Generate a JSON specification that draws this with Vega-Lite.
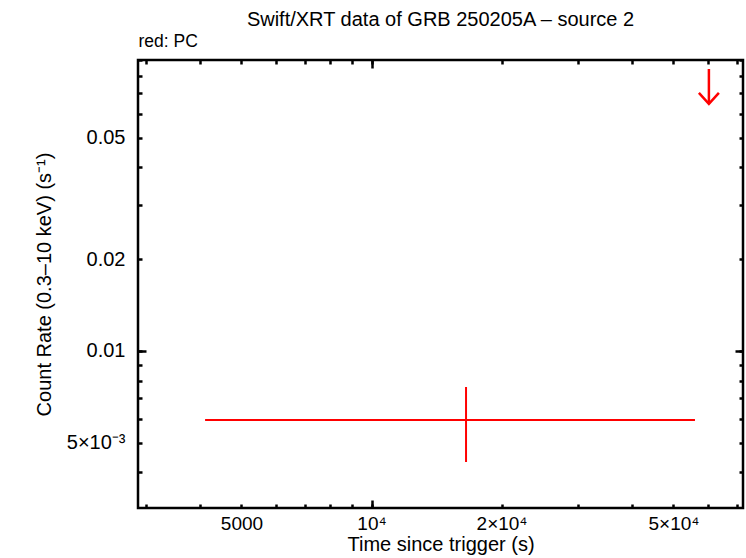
{
  "$schema": "https://vega.github.io/schema/vega-lite/v6.json",
  "width": 605,
  "height": 448,
  "autosize": {"type": "none"},
  "padding": {"left": 138, "top": 60, "right": 3, "bottom": 50},
  "background": "white",
  "title": {"text": "Swift/XRT data of GRB 250205A – source 2", "font": "Liberation Sans", "fontSize": 20, "fontWeight": "normal", "anchor": "middle", "offset": 3, "color": "black"},
  "config": {
    "view": {"stroke": "black", "strokeWidth": 2.5},
    "axis": {"domain": false, "grid": false, "tickColor": "black", "tickWidth": 2.5, "labelFont": "Liberation Sans", "labelFontSize": 19, "labelColor": "black", "titleFont": "Liberation Sans", "titleFontSize": 20, "titleFontWeight": "normal", "titleColor": "black", "labelOverlap": false, "labelFlush": false}
  },
  "datasets": {
    "det": [{"t": 16550, "t_lo": 4118, "t_hi": 56080, "rate": 0.005939, "rate_lo": 0.004325, "rate_hi": 0.00762}],
    "ul": [{"t": 60400, "rate": 0.0841, "tip": 0.0646}]
  },
  "layer": [
    {
      "data": {"name": "det"},
      "mark": {"type": "rule", "color": "#ff0000", "strokeWidth": 2},
      "encoding": {
        "x": {"field": "t_lo", "type": "quantitative", "scale": {"type": "log", "domain": [2880, 72440], "nice": false},
          "axis": {"orient": "bottom", "values": [3000,4000,5000,6000,7000,8000,9000,10000,20000,30000,40000,50000,60000,70000], "tickSize": -4, "labelPadding": 10,
            "labelExpr": "datum.value == 5000 ? '5000' : datum.value == 10000 ? '10⁴' : datum.value == 20000 ? '2×10⁴' : datum.value == 50000 ? '5×10⁴' : ''",
            "title": "Time since trigger (s)", "titlePadding": 1}},
        "x2": {"field": "t_hi"},
        "y": {"field": "rate", "type": "quantitative", "scale": {"type": "log", "domain": [0.003056, 0.09], "nice": false},
          "axis": {"orient": "left", "values": [0.004,0.005,0.006,0.007,0.008,0.009,0.01,0.02,0.03,0.04,0.05,0.06,0.07,0.08,0.09], "tickSize": -4, "labelPadding": 17, "labelFontSize": 20,
            "labelExpr": "datum.value == 0.005 ? '5×10⁻³' : datum.value == 0.01 ? '0.01' : datum.value == 0.02 ? '0.02' : datum.value == 0.05 ? '0.05' : ''",
            "title": "Count Rate (0.3–10 keV) (s⁻¹)", "titlePadding": 12}}
      }
    },
    {
      "data": {"name": "det"},
      "mark": {"type": "rule", "color": "#ff0000", "strokeWidth": 2},
      "encoding": {
        "x": {"field": "t", "type": "quantitative", "scale": {"type": "log", "domain": [2880, 72440], "nice": false},
          "axis": {"orient": "bottom", "values": [10000], "tickSize": -8, "labels": false, "title": null}},
        "y": {"field": "rate_lo", "type": "quantitative", "scale": {"type": "log", "domain": [0.003056, 0.09], "nice": false},
          "axis": {"orient": "left", "values": [0.01], "tickSize": -8, "labels": false, "title": null}},
        "y2": {"field": "rate_hi"}
      }
    },
    {
      "data": {"name": "ul"},
      "mark": {"type": "rule", "color": "#ff0000", "strokeWidth": 2.5},
      "encoding": {
        "x": {"field": "t", "type": "quantitative", "scale": {"type": "log", "domain": [2880, 72440], "nice": false},
          "axis": {"orient": "top", "values": [3000,4000,5000,6000,7000,8000,9000,10000,20000,30000,40000,50000,60000,70000], "tickSize": -4, "labels": false,
            "title": "red: PC", "titleFontSize": 17.5, "titleAnchor": "start", "titleAlign": "left", "titlePadding": 8}},
        "y": {"field": "rate", "type": "quantitative", "scale": {"type": "log", "domain": [0.003056, 0.09], "nice": false},
          "axis": {"orient": "right", "values": [0.004,0.005,0.006,0.007,0.008,0.009,0.01,0.02,0.03,0.04,0.05,0.06,0.07,0.08,0.09], "tickSize": -4, "labels": false, "title": null}},
        "y2": {"field": "tip"}
      }
    },
    {
      "data": {"name": "ul"},
      "mark": {"type": "point", "shape": "M-1,-1.1L0,0L1,-1.1", "size": 400, "filled": false, "stroke": "#ff0000", "strokeWidth": 2.5, "opacity": 1},
      "encoding": {
        "x": {"field": "t", "type": "quantitative", "scale": {"type": "log", "domain": [2880, 72440], "nice": false},
          "axis": {"orient": "top", "values": [10000], "tickSize": -8, "labels": false, "title": null}},
        "y": {"field": "tip", "type": "quantitative", "scale": {"type": "log", "domain": [0.003056, 0.09], "nice": false},
          "axis": {"orient": "right", "values": [0.01], "tickSize": -8, "labels": false, "title": null}}
      }
    }
  ],
  "resolve": {"axis": {"x": "independent", "y": "independent"}}
}
